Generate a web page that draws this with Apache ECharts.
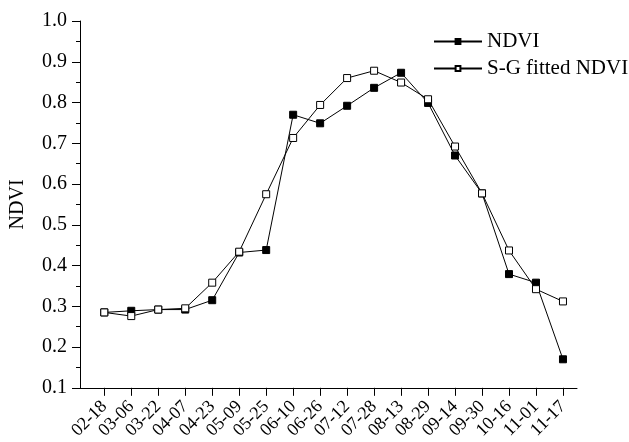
<!DOCTYPE html>
<html>
<head>
<meta charset="utf-8">
<script src="https://cdn.jsdelivr.net/npm/echarts@6/dist/echarts.min.js"></script>
<style>
    html, body {margin: 0; padding: 0; background: #fff;}
    #chart {width: 629px; height: 442px;}
</style>
</head>
<body>
<div id="chart"></div>
<script>
// 采样日期
const dates = ['02-18', '03-06', '03-22', '04-07', '04-23', '05-09', '05-25', '06-10', '06-26',
    '07-12', '07-28', '08-13', '08-29', '09-14', '09-30', '10-16', '11-01', '11-17']
const ndvi = [0.285, 0.289, 0.292, 0.292, 0.315, 0.432, 0.438, 0.770, 0.749,
    0.792, 0.836, 0.873, 0.799, 0.670, 0.577, 0.379, 0.358, 0.170]
const sgNdvi = [0.285, 0.276, 0.292, 0.295, 0.358, 0.434, 0.575, 0.713, 0.794,
    0.860, 0.878, 0.849, 0.808, 0.692, 0.577, 0.437, 0.342, 0.312]

const font = "'Liberation Serif', 'Times New Roman', serif"
const idx = dates.map((d, i) => i)

const chart = echarts.init(document.getElementById('chart'))
chart.setOption({
    animation: false,
    grid: {left: 77, right: 52, top: 21, bottom: 53},
    legend: {
        orient: 'vertical',
        left: 428,
        top: 26,
        itemWidth: 48,
        itemHeight: 6,
        itemGap: 6,
        textStyle: {fontFamily: font, fontSize: 21, color: '#000'},
        data: ['NDVI', 'S-G fitted NDVI'],
    },
    xAxis: {
        type: 'value',
        min: -0.9,
        max: 17.52,
        splitLine: {show: false},
        axisLine: {onZero: false, lineStyle: {color: '#000', width: 1}},
        axisTick: {show: true, length: 8, lineStyle: {color: '#000'}, customValues: idx},
        axisLabel: {
            customValues: idx,
            formatter: (v) => dates[Math.round(v)],
            rotate: 45,
            margin: 16,
            fontFamily: font,
            fontSize: 18,
            color: '#000',
        },
    },
    yAxis: {
        type: 'value',
        min: 0.1,
        max: 1.0,
        interval: 0.1,
        name: 'NDVI',
        nameLocation: 'middle',
        nameGap: 52,
        nameTextStyle: {fontFamily: font, fontSize: 20, color: '#000'},
        splitLine: {show: false},
        axisLine: {show: true, onZero: false, lineStyle: {color: '#000', width: 1}},
        axisTick: {show: true, length: 8, lineStyle: {color: '#000'}},
        minorTick: {show: true, splitNumber: 2, length: 4, lineStyle: {color: '#000'}},
        axisLabel: {
            formatter: (v) => v.toFixed(1),
            margin: 13,
            fontFamily: font,
            fontSize: 20,
            color: '#000',
        },
    },
    series: [
        {
            name: 'NDVI',
            type: 'line',
            data: ndvi.map((v, i) => [i, v]),
            symbol: 'rect',
            symbolSize: 7,
            lineStyle: {color: '#000', width: 1},
            itemStyle: {color: '#000', borderColor: '#000', borderWidth: 1},
        },
        {
            name: 'S-G fitted NDVI',
            type: 'line',
            data: sgNdvi.map((v, i) => [i, v]),
            symbol: 'rect',
            symbolSize: 7,
            lineStyle: {color: '#000', width: 1},
            itemStyle: {color: '#fff', borderColor: '#000', borderWidth: 1},
        },
    ],
})
</script>
</body>
</html>
